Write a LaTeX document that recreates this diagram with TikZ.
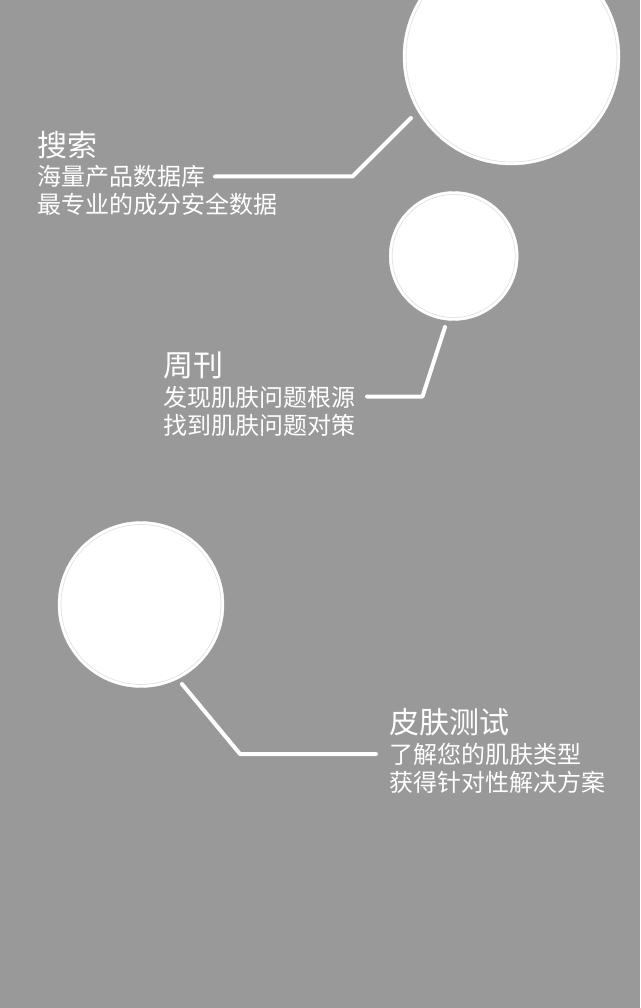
\documentclass[tikz,border=0pt]{standalone}
\usepackage{fontspec}
\setmainfont{Noto Sans CJK SC}
\usepackage{tikz}
\definecolor{bggray}{RGB}{153,153,153}
\definecolor{ringgray}{RGB}{226,226,226}

\begin{document}
\begin{tikzpicture}[x=1pt,y=-1pt,
    bubble/.style={circle,fill=white,draw=white,inner sep=0pt},
    ring/.style={circle,draw=ringgray,line width=0.7pt,inner sep=0pt},
    title/.style={anchor=west,inner sep=0pt,text=white,font=\fontsize{30}{36}\selectfont},
    sub/.style={anchor=west,inner sep=0pt,text=white,font=\fontsize{24}{28}\selectfont},
    link/.style={draw=white,line width=4pt,line cap=round,line join=round}]
  \fill[bggray] (0,0) rectangle (640,1008);
  \useasboundingbox (0,0) rectangle (640,1008);

  % bubbles
  \node[bubble,minimum size=217pt] (search) at (511.5,56.5) {};
  \node[ring,minimum size=211pt] at (search) {};
  \node[bubble,minimum size=129pt] (weekly) at (453.7,256) {};
  \node[ring,minimum size=123pt] at (weekly) {};
  \node[bubble,minimum size=166pt] (test) at (141,604.5) {};
  \node[ring,minimum size=160pt] at (test) {};

  % texts
  \node[title] (t1) at (37,145) {搜索};
  \node[sub]   (s1a) at (37,176) {海量产品数据库};
  \node[sub]   (s1b) at (37,204) {最专业的成分安全数据};

  \node[title] (t2) at (163,365) {周刊};
  \node[sub]   (s2a) at (163,397) {发现肌肤问题根源};
  \node[sub]   (s2b) at (163,425) {找到肌肤问题对策};

  \node[title] (t3) at (389,722) {皮肤测试};
  \node[sub]   (s3a) at (389,754) {了解您的肌肤类型};
  \node[sub]   (s3b) at (389,782) {获得针对性解决方案};

  % connectors
  \coordinate (a1) at (411,118);
  \coordinate (k1) at (352.5,176.5);
  \coordinate (e1) at (215,176.5);
  \coordinate (a2) at (445,327);
  \coordinate (k2) at (422.5,396.5);
  \coordinate (e2) at (367,396.5);
  \coordinate (a3) at (182,684);
  \coordinate (k3) at (240,754);
  \coordinate (e3) at (376,754);

  \path[link] (a1) -- (k1) -- (e1);
  \path[link] (a2) -- (k2) -- (e2);
  \path[link] (a3) -- (k3) -- (e3);
\end{tikzpicture}
\end{document}
